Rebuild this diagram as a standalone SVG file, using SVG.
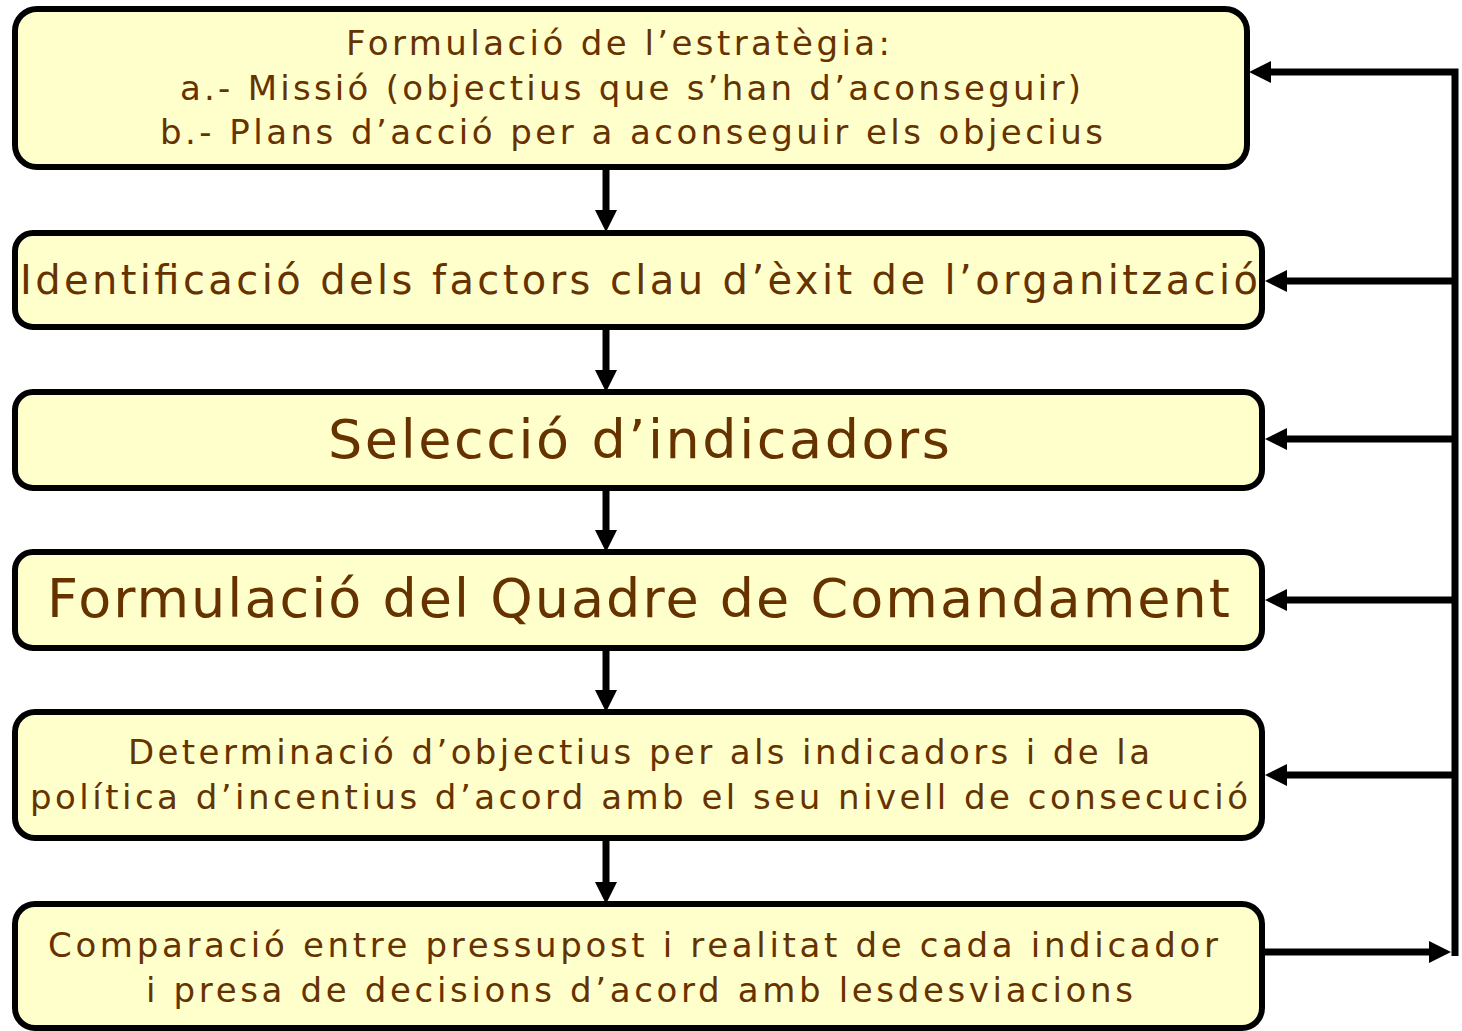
<svg xmlns="http://www.w3.org/2000/svg" width="1462" height="1031" viewBox="0 0 1462 1031">
  <style>
    .box { fill: #FFFFCC; stroke: #000000; stroke-width: 6; }
    .lbl { font-family: "DejaVu Sans", Verdana, sans-serif; fill: #663300; }
    .con { fill: none; stroke: #000000; stroke-width: 7; stroke-linejoin: miter; }
  </style>
  <defs>
    <marker id="ah" markerUnits="userSpaceOnUse" viewBox="0 0 22 22" markerWidth="22" markerHeight="22" refX="2" refY="11" orient="auto">
      <path d="M0,0 L22,11 L0,22 Z" fill="#000000"/>
    </marker>
  </defs>
  <rect width="1462" height="1031" fill="#FFFFFF"/>

  <g id="node1">
    <rect class="box" x="15" y="9" width="1232" height="158" rx="22"/>
    <text class="lbl" x="346" y="55" font-size="34" textLength="544" lengthAdjust="spacing">Formulació de l’estratègia:</text>
    <text class="lbl" x="180" y="100" font-size="34" textLength="901" lengthAdjust="spacing">a.- Missió (objectius que s’han d’aconseguir)</text>
    <text class="lbl" x="160" y="144" font-size="34" textLength="943" lengthAdjust="spacing">b.- Plans d’acció per a aconseguir els objecius</text>
  </g>
  <g id="node2">
    <rect class="box" x="15" y="233" width="1247" height="94" rx="18"/>
    <text class="lbl" x="20" y="294" font-size="40" textLength="1238" lengthAdjust="spacing">Identificació dels factors clau d’èxit de l’organització</text>
  </g>
  <g id="node3">
    <rect class="box" x="15" y="392" width="1247" height="96" rx="18"/>
    <text class="lbl" x="328" y="458" font-size="54" textLength="622" lengthAdjust="spacing">Selecció d’indicadors</text>
  </g>
  <g id="node4">
    <rect class="box" x="15" y="552" width="1247" height="96" rx="18"/>
    <text class="lbl" x="47" y="617" font-size="54" textLength="1183" lengthAdjust="spacing">Formulació del Quadre de Comandament</text>
  </g>
  <g id="node5">
    <rect class="box" x="15" y="712" width="1247" height="126" rx="20"/>
    <text class="lbl" x="128" y="764" font-size="34" textLength="1022" lengthAdjust="spacing">Determinació d’objectius per als indicadors i de la</text>
    <text class="lbl" x="30" y="809" font-size="34" textLength="1218" lengthAdjust="spacing">política d’incentius d’acord amb el seu nivell de consecució</text>
  </g>
  <g id="node6">
    <rect class="box" x="15" y="904" width="1247" height="124" rx="20"/>
    <text class="lbl" x="48" y="957" font-size="34" textLength="1170" lengthAdjust="spacing">Comparació entre pressupost i realitat de cada indicador</text>
    <text class="lbl" x="146" y="1002" font-size="34" textLength="987" lengthAdjust="spacing">i presa de decisions d’acord amb lesdesviacions</text>
  </g>

  <g id="connectors">
    <path class="con" d="M606,167 V212" marker-end="url(#ah)"/>
    <path class="con" d="M606,327 V372" marker-end="url(#ah)"/>
    <path class="con" d="M606,488 V532" marker-end="url(#ah)"/>
    <path class="con" d="M606,648 V692" marker-end="url(#ah)"/>
    <path class="con" d="M606,838 V884" marker-end="url(#ah)"/>
    <path class="con" d="M1455,956 V72 H1269" marker-end="url(#ah)"/>
    <path class="con" d="M1455,281 H1285" marker-end="url(#ah)"/>
    <path class="con" d="M1455,439 H1285" marker-end="url(#ah)"/>
    <path class="con" d="M1455,600 H1285" marker-end="url(#ah)"/>
    <path class="con" d="M1455,775 H1285" marker-end="url(#ah)"/>
    <path class="con" d="M1262,952 H1431" marker-end="url(#ah)"/>
  </g>
</svg>
